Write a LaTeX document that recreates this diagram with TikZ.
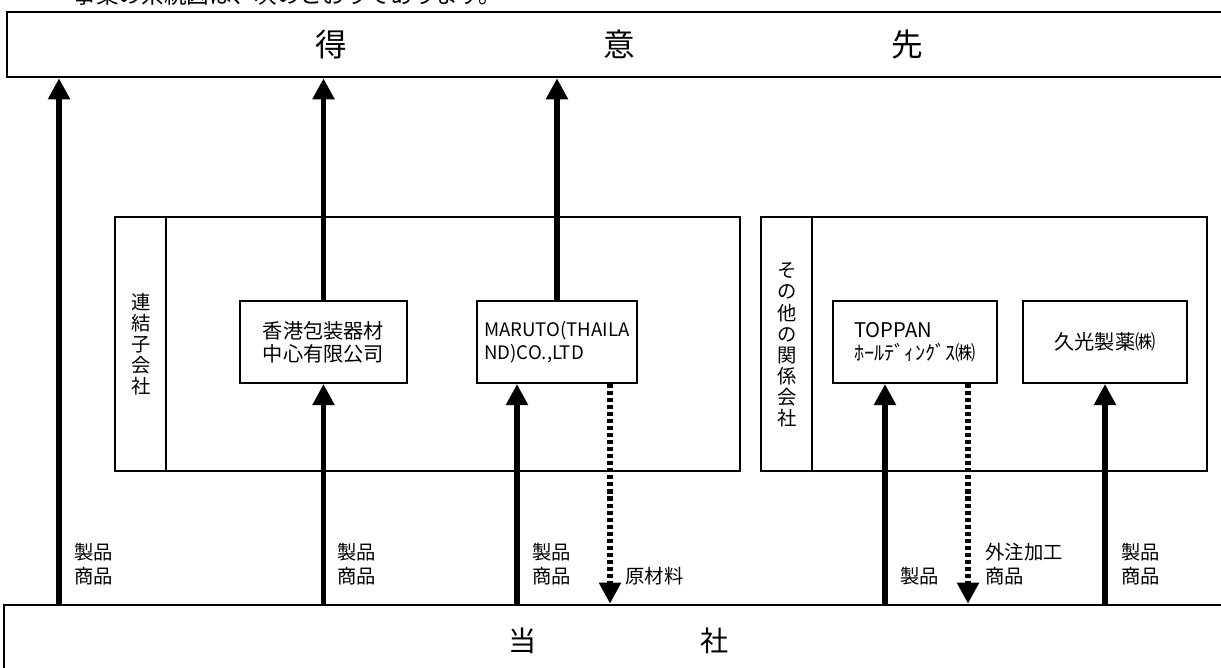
\documentclass[tikz,border=0pt]{standalone}
\usepackage{fontspec}
\setmainfont{Noto Sans CJK JP}
\usepackage{tikz}
\usetikzlibrary{arrows.meta,positioning}
\tikzstyle{party} = [rectangle, draw, line width=1.5pt, inner sep=0pt]
\tikzstyle{group} = [rectangle, draw, line width=1.2pt, minimum height=5.08cm, inner sep=0pt]
\tikzstyle{entity} = [rectangle, draw, line width=1.2pt, minimum width=3.28cm, minimum height=1.64cm, inner sep=0pt, align=center, font=\fontsize{11.5}{13}\selectfont]
\tikzstyle{flow} = [line width=3pt, -{Triangle[length=12pt,width=12pt]}]
\tikzstyle{supply} = [flow, dash pattern=on 2.3pt off 1.7pt]
\tikzstyle{tag} = [anchor=west, inner sep=0pt, align=left, font=\fontsize{11}{13.7}\selectfont]
\tikzstyle{vlabel} = [inner sep=0pt, align=center, font=\fontsize{11}{12}\selectfont]

\begin{document}
\begin{tikzpicture}[x=0.02cm, y=-0.02cm]
\useasboundingbox (0,0) rectangle (1221,668);
\clip (0,0) rectangle (1221,668);

% heading (cut off at the top)
\node[anchor=west, inner sep=0pt, font=\fontsize{12.9}{14}\selectfont] (intro) at (73,-5) {事業の系統図は、次のとおりであります。};

% customers and the company
\node[party, minimum width=24.66cm, minimum height=1.3cm] (client) at (623.5,44.5) {};
\node[font=\fontsize{18}{20}\selectfont, inner sep=0pt] (clientlabel) at (619,45) {得\hspace{5.13cm}意\hspace{5.13cm}先};
\node[party, minimum width=24.72cm, minimum height=1.9cm] (self) at (622,652.5) {};
\node[font=\fontsize{16}{18}\selectfont, inner sep=0pt] (selflabel) at (619,641) {当\hspace{3.28cm}社};

% consolidated subsidiaries
\node[group, minimum width=12.5cm] (subs) at (427.5,344) {};
\draw[line width=1.2pt] ([xshift=1.04cm]subs.north west) -- ([xshift=1.04cm]subs.south west);
\node[vlabel] (subslabel) at (141,344) {連\\結\\子\\会\\社};
\node[entity, minimum width=3.34cm] (hk) at (323.5,342) {香港包装器材\\中心有限公司};
\node[entity, minimum width=3.2cm, align=left, font=\fontsize{10.6}{13}\selectfont] (maruto) at (557,342) {MARUTO(THAILA\\ND)CO.,LTD};

% other related companies
\node[group, minimum width=8.92cm] (rel) at (984,344) {};
\draw[line width=1.2pt] ([xshift=1.04cm]rel.north west) -- ([xshift=1.04cm]rel.south west);
\node[vlabel] (rellabel) at (787,345) {そ\\の\\他\\の\\関\\係\\会\\社};
\node[entity, align=left] (toppan) at (915,342) {TOPPAN\\ﾎｰﾙﾃﾞｨﾝｸﾞｽ㈱};
\node[entity] (hisa) at (1105,342) {久光製薬㈱};

% arrow columns
\coordinate (c1) at (59,0);
\coordinate (c3) at (517,0);
\coordinate (c4) at (610,0);
\coordinate (c5) at (885,0);
\coordinate (c6) at (968,0);

% flows
\draw[flow] (self.north -| c1) -- (client.south -| c1);
\draw[flow] (self.north -| hk.south) -- (hk.south);
\draw[flow] (hk.north) -- (client.south -| hk.north);
\draw[flow] (self.north -| c3) -- (maruto.south -| c3);
\draw[flow] (maruto.north) -- (client.south -| maruto.north);
\draw[supply] (maruto.south -| c4) -- (self.north -| c4);
\draw[flow] (self.north -| c5) -- (toppan.south -| c5);
\draw[supply] (toppan.south -| c6) -- (self.north -| c6);
\draw[flow] (self.north -| hisa.south) -- (hisa.south);

% flow labels
\node[tag] (tag1) at (74,564) {製品\\商品};
\node[tag] (tag2) at (337,564) {製品\\商品};
\node[tag] (tag3) at (532,564) {製品\\商品};
\node[tag] (tagraw) at (625,576) {原材料};
\node[tag] (tag4) at (900,576) {製品};
\node[tag] (tagout) at (985,564) {外注加工\\商品};
\node[tag] (tag5) at (1121,564) {製品\\商品};
\end{tikzpicture}
\end{document}
